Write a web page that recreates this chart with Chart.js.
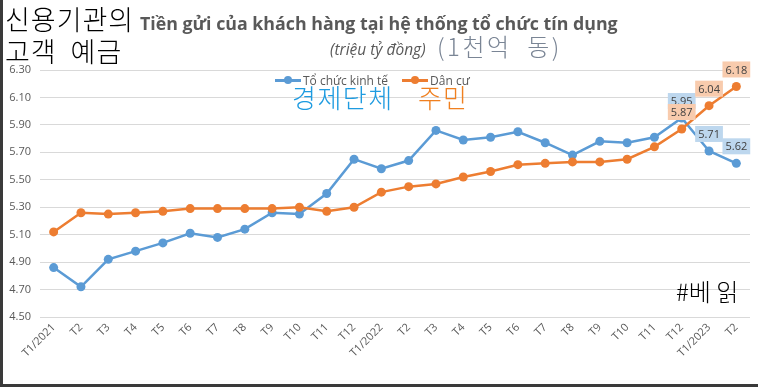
<!DOCTYPE html>
<html>
<head>
<meta charset="utf-8">
<script src="https://cdn.jsdelivr.net/npm/chart.js@4.4.1/dist/chart.umd.min.js"></script>
<style>
  html, body { margin: 0; padding: 0; background: #fff; }
  #wrap { position: relative; width: 758px; height: 387px; overflow: hidden; }
  #chart { position: absolute; left: 0; top: 0; }
  .txt { position: absolute; white-space: nowrap; line-height: 1; }
  .ko { font-family: "Noto Sans CJK KR", sans-serif; font-weight: 300; }
  #title { left: 140px; top: 11px; font: bold 17.8px "Open Sans", sans-serif; color: #595959; }
  #subtitle { left: 330px; top: 38px; font: italic 15.5px "Open Sans", sans-serif; color: #595959; }
  #legend { position: absolute; left: 275px; top: 72px; font: 12px "Open Sans", sans-serif; color: #595959; display: flex; align-items: center; }
  #legend span.item { display: flex; align-items: center; margin-right: 14px; }
  #legend i { display: inline-block; position: relative; width: 26px; height: 3px; margin-right: 2px; }
  #legend i b { position: absolute; left: 9px; top: -3px; width: 8px; height: 8px; border-radius: 50%; }
  #frame { position: absolute; left: 0; top: 0; width: 758px; height: 387px; border-left: 3px solid #3a3a3a; border-bottom: 3px solid #3a3a3a; box-sizing: border-box; pointer-events: none; }
</style>
</head>
<body>
<div id="wrap">
  <canvas id="chart" width="758" height="387"></canvas>
  <div id="title" class="txt">Tiền gửi của khách hàng tại hệ thống tổ chức tín dụng</div>
  <div id="subtitle" class="txt">(triệu tỷ đồng)</div>
  <div id="legend">
    <span class="item"><i style="background:#5b9bd5"><b style="background:#5b9bd5"></b></i>Tổ chức kinh tế</span>
    <span class="item"><i style="background:#ed7d31"><b style="background:#ed7d31"></b></i>Dân cư</span>
  </div>
  <div class="txt ko" style="left:5px;top:5px;font-size:27px;letter-spacing:1px;color:#000">신용기관의</div>
  <div class="txt ko" style="left:5px;top:37px;font-size:27px;letter-spacing:1px;color:#000">고객&nbsp; 예금</div>
  <div class="txt ko" style="left:437px;top:34px;font-size:24px;letter-spacing:2.5px;color:#7a8595">(1천억&nbsp; 동)</div>
  <div class="txt ko" style="left:292px;top:84px;font-size:26px;letter-spacing:1.5px;color:#1e9be0">경제단체</div>
  <div class="txt ko" style="left:418px;top:84px;font-size:26px;letter-spacing:1px;color:#f08020">주민</div>
  <div class="txt ko" style="left:676px;top:279px;font-size:24px;color:#000">#베 읽</div>
  <div id="frame"></div>
</div>
<script>
// Months (Jan 2021 .. Feb 2023)
const months = ['T1/2021', 'T2', 'T3', 'T4', 'T5', 'T6', 'T7', 'T8', 'T9', 'T10', 'T11', 'T12',
                'T1/2022', 'T2', 'T3', 'T4', 'T5', 'T6', 'T7', 'T8', 'T9', 'T10', 'T11', 'T12',
                'T1/2023', 'T2'];

// Tổ chức kinh tế (economic organisations)
const orgDeposits = [4.86, 4.72, 4.92, 4.98, 5.04, 5.11, 5.08, 5.14, 5.26, 5.25, 5.40, 5.65,
                     5.58, 5.64, 5.86, 5.79, 5.81, 5.85, 5.77, 5.68, 5.78, 5.77, 5.81, 5.95,
                     5.71, 5.62];

// Dân cư (residents)
const residentDeposits = [5.12, 5.26, 5.25, 5.26, 5.27, 5.29, 5.29, 5.29, 5.29, 5.30, 5.27, 5.30,
                          5.41, 5.45, 5.47, 5.52, 5.56, 5.61, 5.62, 5.63, 5.63, 5.65, 5.74, 5.87,
                          6.04, 6.18];

const yTicks = [4.50, 4.70, 4.90, 5.10, 5.30, 5.50, 5.70, 5.90, 6.10, 6.30];

// only the last three points carry a value label
const labelledIdx = [23, 24, 25];

// Draw small boxed value labels above the labelled points
const valueLabels = {
    id: 'valueLabels',
    afterDatasetsDraw(chart) {
        const ctx = chart.ctx;
        ctx.save();
        ctx.font = '11px "Open Sans", sans-serif';
        ctx.textAlign = 'center';
        ctx.textBaseline = 'middle';
        chart.data.datasets.forEach((ds, i) => {
            const meta = chart.getDatasetMeta(i);
            labelledIdx.forEach(idx => {
                const pt = meta.data[idx];
                const txt = ds.data[idx].toFixed(2);
                const w = ctx.measureText(txt).width + 6;
                const h = 16;
                const cy = pt.y - 17;
                ctx.fillStyle = ds.labelBg;
                ctx.fillRect(pt.x - w / 2, cy - h / 2, w, h);
                ctx.fillStyle = '#404040';
                ctx.fillText(txt, pt.x, cy + 1);
            });
        });
        ctx.restore();
    }
};

new Chart(document.getElementById('chart'), {
    type: 'line',
    data: {
        labels: months,
        datasets: [
            {
                label: 'Tổ chức kinh tế',
                data: orgDeposits,
                borderColor: '#5b9bd5',
                backgroundColor: '#5b9bd5',
                labelBg: '#bdd7ee',
                borderWidth: 2.5,
                pointRadius: 4.5,
                pointBorderWidth: 0,
                order: 1
            },
            {
                label: 'Dân cư',
                data: residentDeposits,
                borderColor: '#ed7d31',
                backgroundColor: '#ed7d31',
                labelBg: '#f8cbad',
                borderWidth: 2.5,
                pointRadius: 4.5,
                pointBorderWidth: 0,
                order: 0
            }
        ]
    },
    options: {
        responsive: false,
        animation: false,
        layout: { padding: { top: 70, right: 8, left: 0, bottom: 0 } },
        plugins: {
            legend: { display: false },
            tooltip: { enabled: false }
        },
        scales: {
            x: {
                offset: true,
                grid: { display: false, drawTicks: false },
                border: { display: false },
                ticks: {
                    autoSkip: false,
                    minRotation: 45,
                    maxRotation: 45,
                    padding: 4,
                    color: '#595959',
                    font: { size: 11, family: '"Open Sans", sans-serif' }
                },
                afterFit(scale) { scale.height = 70; }
            },
            y: {
                min: yTicks[0],
                max: yTicks[yTicks.length - 1],
                afterBuildTicks(scale) { scale.ticks = yTicks.map(v => ({ value: v })); },
                grid: { color: '#d9d9d9', drawTicks: false },
                border: { display: false },
                ticks: {
                    padding: 9,
                    color: '#595959',
                    font: { size: 11, family: '"Open Sans", sans-serif' },
                    callback: v => v.toFixed(2)
                },
                afterFit(scale) { scale.width = 40; }
            }
        }
    },
    plugins: [valueLabels]
});
</script>
</body>
</html>
